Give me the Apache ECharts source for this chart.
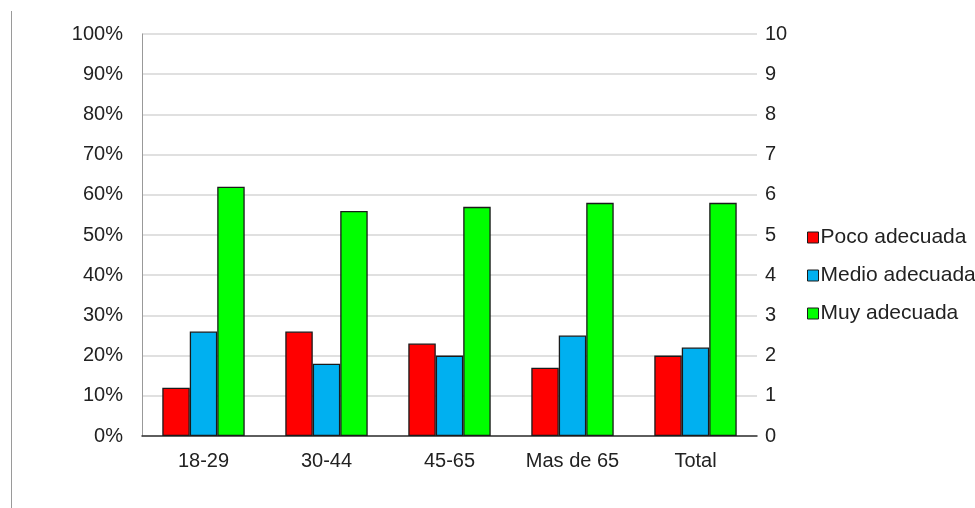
<!DOCTYPE html>
<html>
<head>
<meta charset="utf-8">
<script src="https://cdn.jsdelivr.net/npm/echarts@6/dist/echarts.min.js"></script>
<style>
  html, body { margin: 0; padding: 0; background: #fff; }
  #chart { width: 975px; height: 508px; }
</style>
</head>
<body>
<div id="chart"></div>
<script>
// Age groups and the share of answers in each rating (percent)
const categories = ['18-29', '30-44', '45-65', 'Mas de 65', 'Total'];
const pocoAdecuada = [12, 26, 23, 17, 20];
const medioAdecuada = [26, 18, 20, 25, 22];
const muyAdecuada = [62, 56, 57, 58, 58];
const seriesNames = ['Poco adecuada', 'Medio adecuada', 'Muy adecuada'];
const seriesColors = ['#ff0000', '#00b0f0', '#00ff00'];

const font = 'Liberation Sans, Arial, sans-serif';
const chart = echarts.init(document.getElementById('chart'));

const barSeries = [pocoAdecuada, medioAdecuada, muyAdecuada].map((vals, i) => ({
  name: seriesNames[i],
  type: 'bar',
  data: vals,
  barGap: '0%',
  barCategoryGap: '33%',
  itemStyle: { color: seriesColors[i], borderColor: '#1a1a1a', borderWidth: 1.3 },
  emphasis: { disabled: true }
}));

chart.setOption({
  animation: false,
  backgroundColor: '#ffffff',
  grid: { left: 142, right: 218, top: 34, bottom: 72 },
  legend: {
    orient: 'vertical',
    left: 802,
    top: 222,
    itemWidth: 11,
    itemHeight: 11,
    itemGap: 17,
    icon: 'rect',
    selectedMode: false,
    textStyle: { fontFamily: font, fontSize: 21, color: '#222', padding: [0, 0, 0, -3] },
    data: seriesNames.map((n, i) => ({
      name: n,
      itemStyle: { color: seriesColors[i], borderColor: '#1a1a1a', borderWidth: 1 }
    }))
  },
  xAxis: {
    type: 'category',
    data: categories,
    axisTick: { show: false },
    axisLine: { lineStyle: { color: '#333', width: 1.5 } },
    axisLabel: { fontFamily: font, fontSize: 20, color: '#222', margin: 15 }
  },
  yAxis: [
    {
      type: 'value',
      min: 0,
      max: 100,
      interval: 10,
      axisLine: { show: true, lineStyle: { color: '#999' } },
      axisTick: { show: false },
      splitLine: { lineStyle: { color: '#d6d6d6', width: 1.5 } },
      axisLabel: { fontFamily: font, fontSize: 20, color: '#222', margin: 19, formatter: '{value}%' }
    },
    {
      type: 'value',
      min: 0,
      max: 10,
      interval: 1,
      position: 'right',
      axisLine: { show: false },
      axisTick: { show: false },
      splitLine: { show: false },
      axisLabel: { fontFamily: font, fontSize: 20, color: '#222', margin: 8 }
    }
  ],
  graphic: [
    {
      type: 'line',
      shape: { x1: 11.5, y1: 11, x2: 11.5, y2: 508 },
      style: { stroke: '#9a9a9a', lineWidth: 1 },
      silent: true
    }
  ],
  series: barSeries
});
</script>
</body>
</html>
